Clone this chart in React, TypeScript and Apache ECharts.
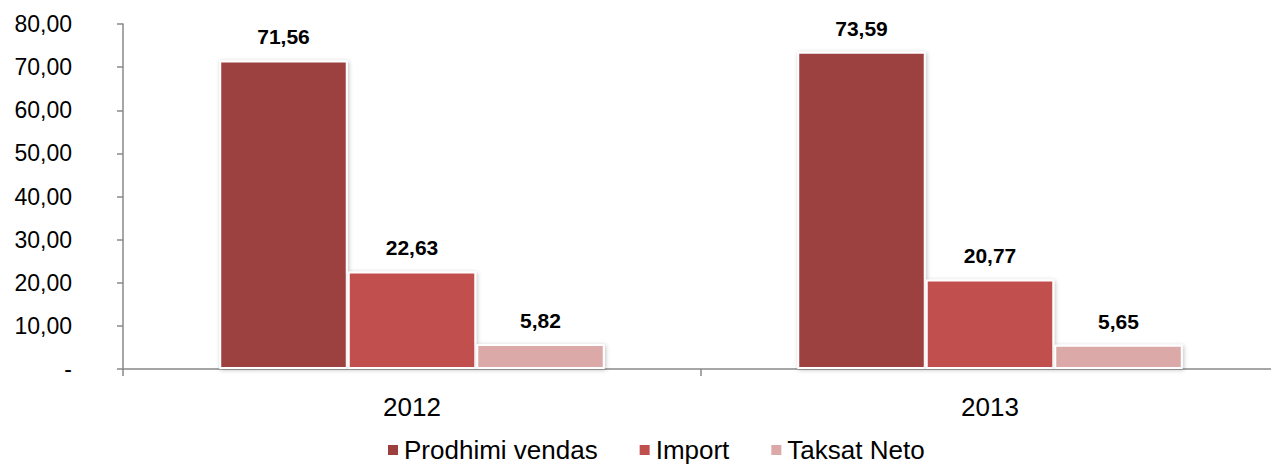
import React, { useEffect, useRef } from "react";
import * as echarts from "echarts";

const categories = ["2012", "2013"];
const prodhimi = [71.56, 73.59];
const importVals = [22.63, 20.77];
const taksat = [5.82, 5.65];
const seriesNames = ["Prodhimi vendas", "Import", "Taksat Neto"];
const colors = ["#9C403F", "#C0504D", "#DAA9A8"];

const fmt = (v: number) => (v === 0 ? "-" : v.toFixed(2).replace(".", ","));

export default function App() {
  const ref = useRef<HTMLDivElement>(null);
  useEffect(() => {
    if (!ref.current) return;
    const chart = echarts.init(ref.current, null, { renderer: "svg" });
    const font = "Liberation Sans, Arial, sans-serif";
    const mk = (name: string, data: number[], color: string) => ({
      name,
      type: "bar",
      data,
      barGap: "0%",
      barCategoryGap: "33.3%",
      itemStyle: {
        color,
        borderColor: "#ffffff",
        borderWidth: 2,
        shadowBlur: 4,
        shadowColor: "rgba(0,0,0,0.25)",
        shadowOffsetX: 1,
        shadowOffsetY: 1,
      },
      label: {
        show: true,
        position: "top",
        distance: 13,
        formatter: (p: any) => fmt(p.value),
        fontFamily: font,
        fontWeight: "bold",
        fontSize: 21,
        color: "#000",
      },
    });
    chart.setOption({
      animation: false,
      textStyle: { fontFamily: font },
      grid: { left: 123, top: 24, bottom: 95, width: 1156 },
      legend: {
        top: 437,
        left: 386,
        padding: 0,
        itemWidth: 12,
        itemHeight: 12,
        itemGap: 40,
        icon: "rect",
        textStyle: { fontFamily: font, fontSize: 26, color: "#000" },
        data: seriesNames,
      },
      xAxis: {
        type: "category",
        data: categories,
        axisLine: { lineStyle: { color: "#888", width: 1.5 } },
        axisTick: { show: true, length: 7, lineStyle: { color: "#888", width: 1.5 } },
        axisLabel: { fontFamily: font, fontSize: 26, color: "#000", margin: 25 },
      },
      yAxis: {
        type: "value",
        min: 0,
        max: 80,
        interval: 10,
        splitLine: { show: false },
        axisLine: { show: true, lineStyle: { color: "#888", width: 1.5 } },
        axisTick: { show: true, length: 6, lineStyle: { color: "#888", width: 1.5 } },
        axisLabel: {
          fontFamily: font,
          fontSize: 23,
          color: "#000",
          margin: 51,
          formatter: (v: number) => fmt(v),
        },
      },
      series: [
        mk(seriesNames[0], prodhimi, colors[0]),
        mk(seriesNames[1], importVals, colors[1]),
        mk(seriesNames[2], taksat, colors[2]),
      ],
    });
    return () => chart.dispose();
  }, []);
  return (
    <div
      style={{
        position: "absolute",
        left: 0,
        top: 0,
        width: 1271,
        height: 464,
        overflow: "hidden",
        background: "#fff",
      }}
    >
      <div ref={ref} style={{ width: 1280, height: 464 }} />
    </div>
  );
}
